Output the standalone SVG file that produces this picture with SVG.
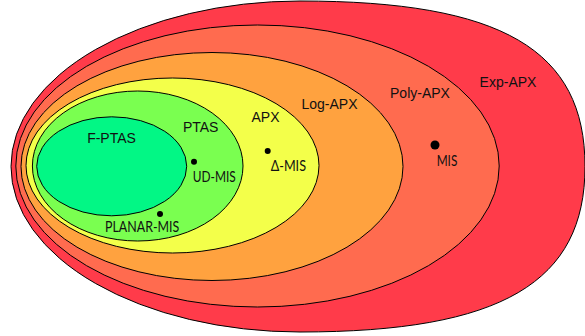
<svg xmlns="http://www.w3.org/2000/svg" width="585" height="336" viewBox="0 0 585 336">
<style>
.set{stroke:#000;stroke-width:1}
.cls{font-family:"Liberation Sans",Arial,sans-serif;font-size:14px;fill:#111;text-anchor:middle}
.prob{font-family:Lato,"Liberation Sans",sans-serif;font-size:14.5px;fill:#111}
.dot{fill:#000}
</style>
<rect width="585" height="336" fill="#fff"/>
<g id="exp-apx">
<path class="set" fill="#ff3b4a" d="M11,166.5 A289,165.5 0 0 1 300,1 C502,1 585,50 585,166.5 C585,282 502,332 300,332 A289,165.5 0 0 1 11,166.5 Z"/>
<text class="cls" x="508" y="87">Exp-APX</text>
</g>
<g id="poly-apx">
<ellipse class="set" fill="#ff6b4f" cx="257.5" cy="166" rx="241.7" ry="141"/>
<text class="cls" x="420" y="98">Poly-APX</text>
</g>
<g id="log-apx">
<ellipse class="set" fill="#ffa23f" cx="212" cy="166.5" rx="191" ry="114"/>
<text class="cls" x="329.5" y="108.5">Log-APX</text>
</g>
<g id="apx">
<ellipse class="set" fill="#f3ff4a" cx="172.5" cy="165.5" rx="146.5" ry="87.5"/>
<text class="cls" x="265.5" y="121.7">APX</text>
</g>
<g id="ptas">
<ellipse class="set" fill="#7aff50" cx="137.7" cy="166" rx="105.3" ry="75"/>
<text class="cls" x="200.7" y="132">PTAS</text>
</g>
<g id="f-ptas">
<ellipse class="set" fill="#02f785" cx="111.7" cy="166.3" rx="75" ry="49.5"/>
<text class="cls" x="111.5" y="142.7">F-PTAS</text>
</g>
<g id="ud-mis">
<circle class="dot" cx="194" cy="161.7" r="3"/>
<text class="prob" x="192.7" y="181.7" textLength="43" lengthAdjust="spacingAndGlyphs">UD-MIS</text>
</g>
<g id="delta-mis">
<circle class="dot" cx="267.7" cy="151" r="3"/>
<text class="prob" x="270.7" y="171" textLength="35.3" lengthAdjust="spacingAndGlyphs">Δ-MIS</text>
</g>
<g id="mis">
<circle class="dot" cx="435" cy="145" r="4.5"/>
<text class="prob" x="436.7" y="165.7" textLength="20.6" lengthAdjust="spacingAndGlyphs">MIS</text>
</g>
<g id="planar-mis">
<circle class="dot" cx="160" cy="214" r="3"/>
<text class="prob" x="105" y="232.3" textLength="74.3" lengthAdjust="spacingAndGlyphs">PLANAR-MIS</text>
</g>
</svg>
